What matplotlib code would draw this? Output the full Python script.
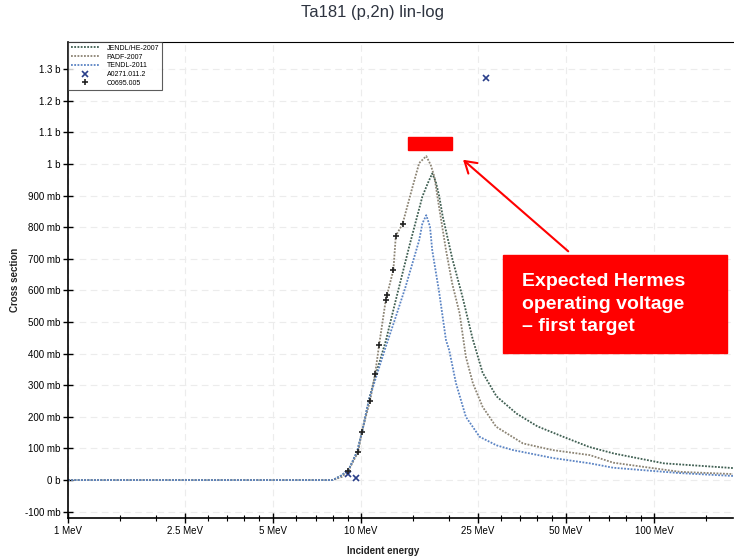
import numpy as np
import matplotlib
matplotlib.use('Agg')
import matplotlib.pyplot as plt
from matplotlib.patches import Rectangle, FancyArrowPatch
from matplotlib.ticker import FixedLocator, NullFormatter

# cross section curves (energy in MeV, cross section in mb)
jendlE = [1, 8.0, 8.2, 8.6, 9.1, 9.7, 10.1, 10.65, 11.2, 12.15, 13.15, 14.6, 16.2, 16.9, 17.5,
          18.0, 18.5, 19.0, 20.5, 22.2, 24.0, 26.0, 29.0, 34.0, 40.0, 49.0, 60.0, 73.0, 108.0, 186.0]
jendlXS = [0, 0, 5, 15, 35, 90, 155, 255, 330, 440, 570, 738, 897, 939, 970,
           944, 897, 835, 700, 580, 450, 340, 265, 210, 170, 137, 105, 84, 53, 38]

padfE = [1, 8.0, 8.6, 9.05, 9.79, 10.05, 10.74, 11.17, 11.53, 12.15, 12.9, 13.15, 13.86, 15.0,
         15.8, 16.7, 17.3, 17.8, 18.5, 19.5, 20.5, 21.7, 22.8, 24.1, 26.0, 28.9, 35.7, 45.0,
         60.4, 72.6, 122.7, 186.0]
padfXS = [0, 0, 10, 29, 90, 151, 251, 335, 427, 570, 665, 773, 810, 928,
          1003, 1025, 997, 960, 860, 728, 620, 528, 390, 306, 232, 169, 116, 95,
          79, 55, 26, 19]

tendlE = [1, 8.0, 8.2, 8.6, 9.1, 9.7, 10.1, 10.65, 12.15, 13.15, 14.2, 15.8, 16.2, 16.7, 17.2,
          17.5, 18.5, 19.5, 20.0, 21.1, 22.8, 25.4, 29.0, 33.0, 45.0, 60.4, 72.6, 122.7, 186.0]
tendlXS = [0, 0, 5, 15, 35, 90, 155, 255, 422, 517, 612, 759, 812, 838, 802,
           728, 592, 443, 411, 306, 200, 137, 110, 95, 70, 53, 39, 22, 13]

# experimental points
a0271E = [26.8, 9.0, 9.6]
a0271XS = [1272, 20, 8]
c0695E = [9.05, 9.79, 10.05, 10.74, 11.17, 11.53, 12.15, 12.3, 12.9, 13.15, 13.86]
c0695XS = [29, 90, 151, 251, 335, 427, 570, 585, 665, 773, 810]

xTicks = [1, 2.5, 5, 10, 25, 50, 100]
xTickLabels = ['1 MeV', '2.5 MeV', '5 MeV', '10 MeV', '25 MeV', '50 MeV', '100 MeV']
yTicks = [-100, 0, 100, 200, 300, 400, 500, 600, 700, 800, 900, 1000, 1100, 1200, 1300]
yTickLabels = ['-100 mb', '0 b', '100 mb', '200 mb', '300 mb', '400 mb', '500 mb', '600 mb',
               '700 mb', '800 mb', '900 mb', '1 b', '1.1 b', '1.2 b', '1.3 b']

plt.rcParams['font.family'] = ['Liberation Sans', 'DejaVu Sans']


def drawChart():
    fig = plt.figure(figsize=(7.34, 5.6), dpi=100)
    ax = fig.add_axes([0.0926, 0.075, 0.906, 0.85])

    dots = (0, (1, 0.8))
    ax.plot(jendlE, jendlXS, color='#3f5f52', lw=1.3, linestyle=dots, label='JENDL/HE-2007')
    ax.plot(padfE, padfXS, color='#8c8474', lw=1.3, linestyle=dots, label='PADF-2007')
    ax.plot(tendlE, tendlXS, color='#5b84c4', lw=1.3, linestyle=dots, label='TENDL-2011')
    ax.plot(a0271E, a0271XS, linestyle='none', marker='x', ms=4, mew=1.2,
            color='#2a3f8a', label='A0271.011.2')
    ax.plot(c0695E, c0695XS, linestyle='none', marker='+', ms=5, mew=1.2,
            color='#222222', label='C0695.005')

    ax.set_xscale('log')
    ax.set_xlim(1, 186)
    ax.set_ylim(-120, 1386)
    ax.set_xticks(xTicks)
    ax.set_xticklabels(xTickLabels)
    minorX = [1.5, 2, 3, 3.5, 4, 4.5, 6, 7, 8, 9, 15, 20, 30, 35, 40, 45, 60, 70, 80, 90, 150]
    ax.xaxis.set_minor_locator(FixedLocator(minorX))
    ax.xaxis.set_minor_formatter(NullFormatter())
    ax.set_yticks(yTicks)
    ax.set_yticklabels(yTickLabels)
    ax.tick_params(axis='both', which='major', direction='inout', length=7, width=1,
                   labelsize=7, pad=2)
    ax.tick_params(axis='x', which='minor', direction='inout', length=4, width=0.8)
    ax.grid(True, which='major', color='#ececec', linestyle=(0, (6, 4)), lw=0.8)
    for side in ['left', 'bottom']:
        ax.spines[side].set_linewidth(1.2)
    ax.spines['top'].set_linewidth(0.8)
    ax.spines['right'].set_visible(False)

    leg = ax.legend(loc='upper left', fontsize=5, frameon=True, fancybox=False,
                    borderaxespad=0, handlelength=4, labelspacing=0.25,
                    borderpad=0.4, handletextpad=1.2)
    leg.get_frame().set_edgecolor('#333333')
    leg.get_frame().set_linewidth(0.8)

    fig.text(0.507, 0.978, 'Ta181 (p,2n) lin-log', ha='center', va='center',
             fontsize=12, color='#2e3440')
    fig.text(0.522, 0.016, 'Incident energy', ha='center', va='center',
             fontsize=7, fontweight='bold', color='#222222')
    fig.text(0.02, 0.5, 'Cross section', ha='center', va='center', rotation=90,
             fontsize=7, fontweight='bold', color='#222222')

    # annotation overlay
    fig.patches.append(Rectangle((0.556, 0.732), 0.060, 0.023, transform=fig.transFigure,
                                 color='#ff0000', zorder=5))
    fig.patches.append(Rectangle((0.685, 0.370), 0.305, 0.175, transform=fig.transFigure,
                                 color='#ff0000', zorder=5))
    fig.text(0.711, 0.457, 'Expected Hermes\noperating voltage\n\u2013 first target',
             ha='left', va='center', color='white', fontsize=14, fontweight='bold',
             linespacing=1.4, zorder=6, family=['Liberation Sans', 'DejaVu Sans'])
    arrow = FancyArrowPatch((0.777, 0.548), (0.628, 0.718), transform=fig.transFigure,
                            arrowstyle='->,head_length=8,head_width=5', color='#ff0000',
                            lw=1.5, zorder=6)
    fig.patches.append(arrow)

    fig.savefig('out.png', dpi=100)


def main():
    drawChart()


if __name__ == '__main__':
    main()
